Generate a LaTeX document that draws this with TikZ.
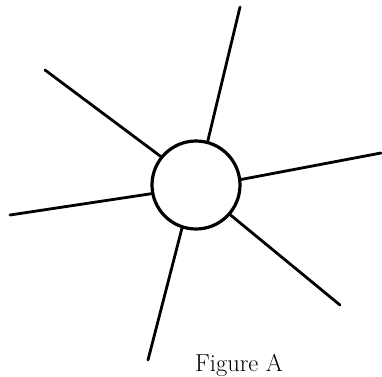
\documentclass[tikz,border=0pt]{standalone}
\usepackage{tikz}

\begin{document}
\begin{tikzpicture}[x=1pt,y=-1pt,
  spoke/.style={line width=2.8pt,line cap=round},
  hub/.style={circle,draw,line width=3.2pt,minimum size=88pt,inner sep=0pt}]
  \useasboundingbox (0,0) rectangle (382,376);
  % centre ring and its six spokes
  \node[hub] (ring) at (196,185) {};
  \foreach \n/\x/\y in {ne/240/7,nw/45/70,ea/381/153,we/10/215,se/340/305,so/148/360}
    \coordinate (\n) at (\x,\y);
  \foreach \a/\n in {75.8/ne,141.7/nw,7.3/ea,191/we,-41.7/se,-108.4/so}
    \draw[spoke] (ring.\a) -- (\n);
  \node[font=\fontsize{24.5}{28}\selectfont,anchor=base] (cap) at (239,371) {Figure A};
\end{tikzpicture}
\end{document}
